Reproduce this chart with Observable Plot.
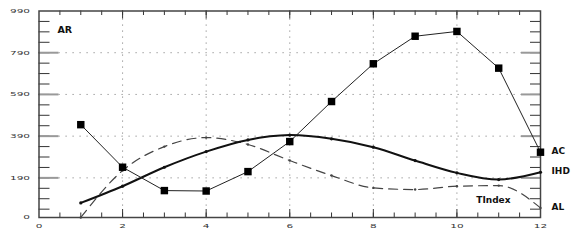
<!DOCTYPE html>
<html>
<head>
<meta charset="utf-8">
<script src="https://cdn.jsdelivr.net/npm/d3@7"></script>
<script src="https://cdn.jsdelivr.net/npm/@observablehq/plot@0.6"></script>
<style>
  html, body { margin: 0; padding: 0; background: #fff; }
  #chart svg { display: block; }
</style>
</head>
<body>
<div id="chart"></div>
<script>
// ---- data ----
const xs = [1, 2, 3, 4, 5, 6, 7, 8, 9, 10, 11, 12];
const arValues  = [445, 241, 129, 127, 220, 364, 556, 737, 869, 892, 716, 313];
const ihdValues = [70, 150, 241, 316, 372, 395, 377, 337, 273, 214, 182, 217];
const alValues  = [0, 225, 340, 383, 350, 273, 201, 142, 134, 150, 153, 46];
const seriesNames = ["AC", "IHD", "AL"];
const yTickLabels = [0, 190, 390, 590, 790, 990];
const xTickLabels = [0, 2, 4, 6, 8, 10, 12];
const yMajorTicks = [190, 390, 590, 790];
const yMinorTicks = d3.range(40, 990, 50);
const xMajorTicks = [2, 4, 6, 8, 10];
const xMinorTicks = d3.range(0.5, 12, 0.5);
const yTitle = "AR";
const xTitle = "TIndex";

const toRows = (vals) => xs.map((x, i) => ({x, y: vals[i]}));
const ar = toRows(arValues), ihd = toRows(ihdValues), al = toRows(alValues);
const ends = [
  {name: seriesNames[0], x: 12, y: arValues[11]},
  {name: seriesNames[1], x: 12, y: ihdValues[11]},
  {name: seriesNames[2], x: 12, y: alValues[11]}
];

const W = 578, H = 244;
const mL = 38.5, mR = 38, mT = 10.5, mB = 27;
const iw = W - mL - mR, ih = H - mT - mB;
const lab = {fontFamily: "DejaVu Sans", fontWeight: "bold", fontSize: 9, fill: "#111"};

const chart = Plot.plot({
  width: W, height: H,
  marginLeft: mL, marginRight: mR, marginTop: mT, marginBottom: mB,
  style: {fontFamily: "DejaVu Sans", background: "#fff"},
  x: {domain: [0, 12], axis: null},
  y: {domain: [0, 990], axis: null},
  marks: [
    // dotted grid
    Plot.ruleY(yMajorTicks, {y: d => d, stroke: "#8a8a8a", strokeDasharray: "1.2,5.8", insetLeft: 20, insetRight: 19}),
    Plot.ruleX(xMajorTicks, {x: d => d, stroke: "#8a8a8a", strokeDasharray: "1.2,4.8", insetTop: 8, insetBottom: 8}),
    // inner ticks, left & right
    Plot.tickY(yMinorTicks, {y: d => d, stroke: "#333", insetRight: iw - 11}),
    Plot.tickY(yMinorTicks, {y: d => d, stroke: "#333", insetLeft: iw - 10}),
    Plot.tickY(yMajorTicks, {y: d => d, stroke: "#999", strokeWidth: 2, insetRight: iw - 20}),
    Plot.tickY(yMajorTicks, {y: d => d, stroke: "#999", strokeWidth: 2, insetLeft: iw - 19}),
    // inner ticks, bottom & top
    Plot.tickX(xMinorTicks, {x: d => d, stroke: "#333", insetTop: ih - 4.5}),
    Plot.tickX(xMinorTicks, {x: d => d, stroke: "#333", insetBottom: ih - 4.5}),
    Plot.tickX(xMajorTicks, {x: d => d, stroke: "#333", insetTop: ih - 8}),
    Plot.tickX(xMajorTicks, {x: d => d, stroke: "#333", insetBottom: ih - 8}),
    Plot.frame({stroke: "#444", strokeWidth: 1.5}),
    // tick labels
    Plot.axisY({ticks: yTickLabels, tickSize: 0, tickPadding: 9, fontSize: 7, fill: "#333", label: null, tickFormat: d => String(d)}),
    Plot.axisX({ticks: xTickLabels, tickSize: 0, tickPadding: 7, fontSize: 7, fill: "#333", label: null, tickFormat: d => String(d)}),
    // series
    Plot.line(al, {x: "x", y: "y", stroke: "#444", strokeWidth: 1.2, strokeDasharray: "9,6", curve: "monotone-x"}),
    Plot.dot(al, {x: "x", y: "y", r: 1.2, fill: "#444"}),
    Plot.line(ihd, {x: "x", y: "y", stroke: "#111", strokeWidth: 2, curve: "catmull-rom"}),
    Plot.dot(ihd, {x: "x", y: "y", r: 1.6, fill: "#111"}),
    Plot.line(ar, {x: "x", y: "y", stroke: "#222", strokeWidth: 1}),
    Plot.dot(ar, {x: "x", y: "y", symbol: "square", r: 4.2, fill: "#000"}),
    // labels
    Plot.text(ends, {x: "x", y: "y", text: "name", dx: 11, dy: -1, textAnchor: "start", ...lab}),
    Plot.text([yTitle], {frameAnchor: "top-left", dx: 18.5, dy: 15.5, textAnchor: "start", ...lab, fontSize: 9.5}),
    Plot.text([xTitle], {frameAnchor: "bottom-right", dx: -30, dy: -15, textAnchor: "end", ...lab})
  ]
});
document.getElementById("chart").appendChild(chart);

// squat, wide tick-label glyphs as in the reference
chart.querySelectorAll('g[aria-label="y-axis tick label"] text, g[aria-label="x-axis tick label"] text').forEach(t => {
  let tr = t.getAttribute("transform");
  if (!tr) {
    const x = t.getAttribute("x") || 0, y = t.getAttribute("y") || 0;
    t.removeAttribute("x"); t.removeAttribute("y");
    tr = `translate(${x},${y})`;
  }
  t.setAttribute("transform", tr + " scale(1.5,0.8)");
});
</script>
</body>
</html>
